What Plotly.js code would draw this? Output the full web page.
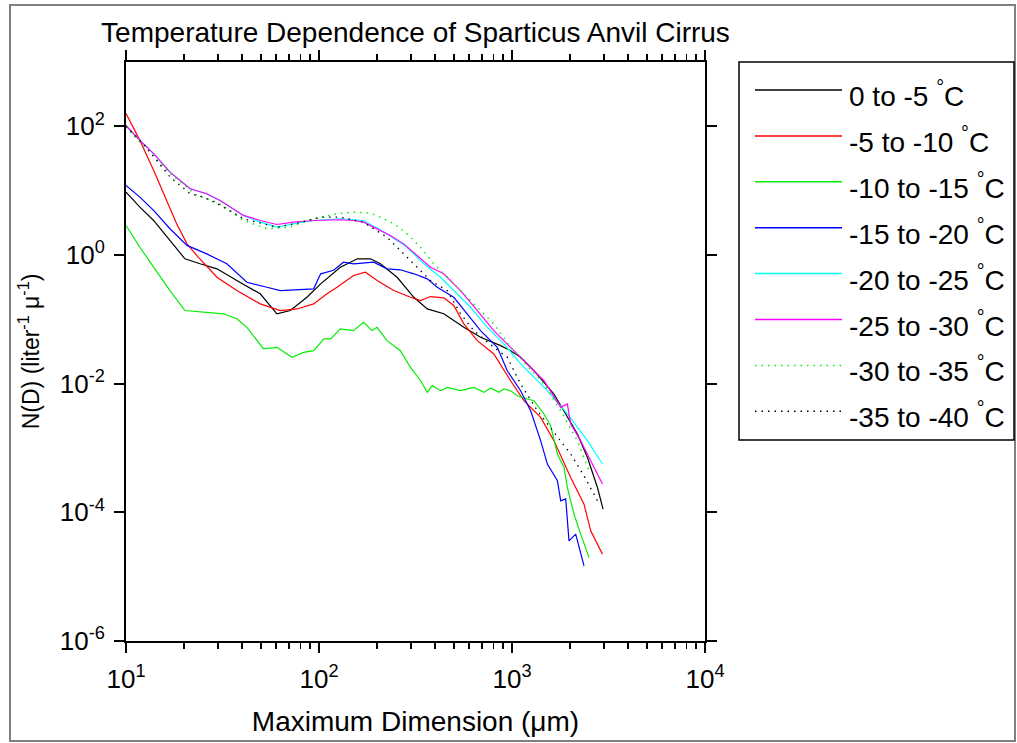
<!DOCTYPE html>
<html>
<head>
<meta charset="utf-8">
<script src="https://cdn.plot.ly/plotly-3.0.1.min.js"></script>
<style>html,body{margin:0;padding:0;background:#fff;}#chart{width:1017px;height:743px;}</style>
</head>
<body>
<div id="chart"></div>
<script>
// ---- data ----
const seriesNames = ['0 to -5 <sup>°</sup>C', '-5 to -10 <sup>°</sup>C', '-10 to -15 <sup>°</sup>C', '-15 to -20 <sup>°</sup>C',
  '-20 to -25 <sup>°</sup>C', '-25 to -30 <sup>°</sup>C', '-30 to -35 <sup>°</sup>C', '-35 to -40 <sup>°</sup>C'];

const D_0to5 = [10, 11.8, 13.9, 16.9, 20.2, 24.2, 29.6, 37.5, 49.6, 60.5, 71.0, 86.6, 102, 129, 158, 185, 208, 254, 310, 364, 443, 563, 687, 873, 983, 1108, 1299, 1650, 1860, 2182, 2460, 2772, 2963];
const N_0to5 = [9.49, 5.55, 3.44, 1.68, 0.873, 0.73, 0.61, 0.401, 0.249, 0.122, 0.137, 0.220, 0.356, 0.646, 0.873, 0.873, 0.73, 0.451, 0.220, 0.145, 0.122, 0.0752, 0.0526, 0.0390, 0.0326, 0.0257, 0.0159, 0.00691, 0.0038, 0.00165, 0.000713, 0.000243, 0.000112];

const D_5to10 = [10, 11.8, 13.9, 16.3, 18.3, 20.7, 23.3, 29.6, 37.5, 49.6, 63.0, 76.9, 93.8, 110, 124, 151, 174, 200, 244, 298, 336, 378, 443, 499, 563, 661, 805, 983, 1066, 1153, 1407, 1650, 2014, 2361, 2558, 2942];
const N_5to10 = [158, 60.5, 20.7, 7.05, 3.06, 1.49, 0.98, 0.451, 0.280, 0.174, 0.137, 0.145, 0.174, 0.249, 0.315, 0.48, 0.54, 0.401, 0.280, 0.220, 0.196, 0.226, 0.216, 0.164, 0.0849, 0.0467, 0.029, 0.0111, 0.00778, 0.00544, 0.00299, 0.0013, 0.000348, 0.000134, 0.0000515, 0.0000224];

const D_10to15 = [10, 11.8, 13.9, 16.9, 20.2, 25.2, 32.0, 37.5, 42.3, 51.6, 60.5, 72.4, 83.2, 93.8, 106, 115, 129, 151, 170, 188, 200, 225, 264, 298, 336, 364, 386, 426, 462, 541, 634, 715, 774, 855, 908, 983, 1066, 1201, 1299, 1464, 1586, 1719, 1860, 1936, 2095, 2270, 2507];
const N_10to15 = [2.88, 1.32, 0.646, 0.280, 0.137, 0.129, 0.122, 0.102, 0.0752, 0.0347, 0.0367, 0.0257, 0.0307, 0.0326, 0.0496, 0.0496, 0.071, 0.0668, 0.090, 0.0668, 0.0752, 0.0467, 0.0326, 0.0179, 0.0111, 0.00732, 0.00931, 0.00778, 0.00876, 0.00778, 0.00876, 0.00732, 0.00857, 0.00732, 0.00827, 0.00778, 0.0065, 0.00578, 0.00544, 0.00338, 0.00222, 0.000805, 0.000498, 0.000243, 0.0000938, 0.0000458, 0.0000198];

const D_15to20 = [10, 11.8, 13.9, 16.9, 20.7, 26.2, 33.3, 42.3, 53.7, 63.0, 93.8, 102, 119, 134, 151, 192, 225, 264, 310, 364, 410, 499, 586, 687, 839, 945, 1108, 1249, 1407, 1525, 1719, 1788, 1898, 1974, 2138, 2224, 2361];
const N_15to20 = [12.1, 7.94, 4.93, 2.56, 1.41, 1.04, 0.73, 0.377, 0.315, 0.280, 0.298, 0.51, 0.58, 0.772, 0.73, 0.772, 0.61, 0.589, 0.51, 0.426, 0.315, 0.22, 0.122, 0.0668, 0.0367, 0.0159, 0.00778, 0.0038, 0.0013, 0.000563, 0.000309, 0.000151, 0.000162, 0.000036, 0.0000458, 0.0000283, 0.0000147];

const D_20to25 = [10, 11.8, 13.9, 16.9, 21.5, 26.2, 30.7, 40.6, 49.6, 60.5, 73.8, 93.8, 129, 170, 225, 286, 349, 426, 499, 610, 744, 908, 1108, 1525, 1936, 2460, 2942];
const N_20to25 = [100, 60.5, 37.6, 19.4, 10.7, 8.96, 7.05, 4.12, 3.24, 2.71, 3.06, 3.44, 3.66, 3.44, 2.14, 1.32, 0.73, 0.451, 0.28, 0.154, 0.0752, 0.0415, 0.0203, 0.00778, 0.00338, 0.0013, 0.000563];

const D_25to30 = [10, 11.8, 13.9, 16.9, 21.5, 26.2, 30.7, 40.6, 49.6, 60.5, 73.8, 93.8, 129, 151, 170, 200, 234, 275, 323, 378, 443, 541, 661, 805, 983, 1201, 1464, 1788, 1936, 2014, 2270, 2558, 2942];
const N_25to30 = [103, 60.5, 37.6, 19.4, 10.7, 8.96, 7.05, 4.12, 3.44, 2.98, 3.24, 3.44, 3.53, 3.44, 3.24, 2.56, 2.01, 1.49, 0.982, 0.646, 0.51, 0.28, 0.137, 0.0668, 0.0367, 0.0203, 0.0111, 0.00428, 0.00483, 0.00236, 0.0013, 0.000633, 0.000275];

const D_30to35 = [10, 10.9, 12.8, 15.9, 19.1, 23.3, 29.6, 34.6, 40.6, 53.7, 71.0, 86.6, 102, 124, 151, 185, 208, 244, 286, 336, 393, 462, 541, 634, 805, 983, 1201, 1464, 1788, 2182, 2507];
const N_30to35 = [100, 72.4, 45.0, 21.9, 13.6, 8.44, 6.63, 4.93, 3.44, 2.56, 2.71, 3.44, 3.87, 4.38, 4.64, 4.47, 3.87, 3.06, 2.14, 1.32, 0.73, 0.451, 0.28, 0.174, 0.0849, 0.0367, 0.0191, 0.00989, 0.0038, 0.0013, 0.000443];

const D_35to40 = [10, 12.3, 16.9, 21.5, 25.2, 29.6, 40.6, 60.5, 80.0, 102, 129, 170, 225, 264, 310, 378, 462, 541, 634, 805, 945, 1108, 1353, 1719, 2014, 2361, 2772];
const N_35to40 = [100, 53.8, 16.3, 8.96, 7.94, 6.33, 3.66, 2.71, 3.20, 3.87, 3.87, 3.24, 1.89, 1.17, 0.73, 0.401, 0.28, 0.122, 0.0668, 0.0367, 0.0257, 0.00989, 0.0038, 0.00146, 0.000805, 0.00037, 0.000151];

const xTickVals = [10, 100, 1000, 10000];
const xTickText = ['10<sup>1</sup>', '10<sup>2</sup>', '10<sup>3</sup>', '10<sup>4</sup>'];
const yTickVals = [1e-6, 1e-4, 1e-2, 1, 100];
const yTickText = ['10<sup>-6</sup>', '10<sup>-4</sup>', '10<sup>-2</sup>', '10<sup>0</sup>', '10<sup>2</sup>'];

// ---- styling ----
const seriesX = [D_0to5, D_5to10, D_10to15, D_15to20, D_20to25, D_25to30, D_30to35, D_35to40];
const seriesY = [N_0to5, N_5to10, N_10to15, N_15to20, N_20to25, N_25to30, N_30to35, N_35to40];
const seriesColors = ['#000000', '#ff0000', '#00ee00', '#0000ff', '#00ffff', '#ff00ff', '#00ee00', '#000000'];
const seriesDash = ['solid', 'solid', 'solid', 'solid', 'solid', 'solid', '1.5px,5px', '1.5px,5px'];
const seriesWidth = [1.2, 1.2, 1.2, 1.2, 1.2, 1.2, 1.5, 1.3];

const FONT = 'Liberation Sans, Arial, Helvetica, sans-serif';
const W = 1017, H = 743;
const M = {l: 126, r: 312, t: 62, b: 102};
const PW = W - M.l - M.r, PH = H - M.t - M.b;
const px2x = p => (p - M.l) / PW;
const py2y = p => (H - M.b - p) / PH;

const traces = seriesX.map((xs, i) => ({
  type: 'scatter', mode: 'lines', x: xs, y: seriesY[i], name: seriesNames[i],
  line: {color: seriesColors[i], width: seriesWidth[i], dash: seriesDash[i]},
  showlegend: false
}));

// minor tick positions for log x axis
const xMinor = [];
for (let d = 1; d < 4; d++) for (let k = 2; k <= 9; k++) xMinor.push(k * Math.pow(10, d));

const shapes = [];
const annotations = [];
// outer frame
shapes.push({type: 'rect', xref: 'paper', yref: 'paper', x0: px2x(10), x1: px2x(1015), y0: py2y(741), y1: py2y(5),
  line: {color: '#808080', width: 2}, fillcolor: 'rgba(0,0,0,0)', layer: 'below'});
// legend box
shapes.push({type: 'rect', xref: 'paper', yref: 'paper', x0: px2x(739), x1: px2x(1014), y0: py2y(440), y1: py2y(62),
  line: {color: '#000', width: 1.5}, fillcolor: 'rgba(0,0,0,0)'});
seriesNames.forEach((nm, i) => {
  const ly = 90 + 45.9 * i;
  shapes.push({type: 'line', xref: 'paper', yref: 'paper', x0: px2x(755), x1: px2x(842), y0: py2y(ly), y1: py2y(ly),
    line: {color: seriesColors[i], width: 1.5, dash: seriesDash[i]}});
  annotations.push({xref: 'paper', yref: 'paper', x: px2x(847), y: py2y(ly + 4), xanchor: 'left', yanchor: 'middle',
    text: nm, showarrow: false, font: {family: FONT, size: 28, color: '#000'}});
});

const layout = {
  width: W, height: H,
  margin: M,
  paper_bgcolor: '#fff', plot_bgcolor: '#fff',
  font: {family: FONT, color: '#000', size: 25},
  showlegend: false,
  title: {text: 'Temperature Dependence of Sparticus Anvil Cirrus', font: {family: FONT, size: 28, color: '#000'},
    xref: 'paper', x: 0.5, xanchor: 'center', yref: 'container', y: 1 - 32 / H, yanchor: 'middle'},
  xaxis: {
    type: 'log', range: [1, 4], tickmode: 'array', tickvals: xTickVals, ticktext: xTickText,
    ticks: 'outside', ticklen: 10, tickwidth: 2, tickcolor: '#000', ticklabelstandoff: 4,
    showline: true, linewidth: 2, linecolor: '#000', mirror: 'ticks',
    showgrid: false, zeroline: false, automargin: false,
    tickfont: {family: FONT, size: 26, color: '#000'},
    minor: {tickmode: 'array', tickvals: xMinor, ticks: 'outside', ticklen: 6, tickwidth: 1.5, tickcolor: '#000', showgrid: false},
    title: {text: 'Maximum Dimension (μm)', font: {family: FONT, size: 28, color: '#000'}, standoff: 18}
  },
  yaxis: {
    type: 'log', range: [-6, 3], tickmode: 'array', tickvals: yTickVals, ticktext: yTickText,
    ticks: 'outside', ticklen: 10, tickwidth: 2, tickcolor: '#000', ticklabelstandoff: 4,
    showline: true, linewidth: 2, linecolor: '#000', mirror: 'ticks',
    showgrid: false, zeroline: false, automargin: false,
    tickfont: {family: FONT, size: 26, color: '#000'},
    title: {text: 'N(D) (liter<sup>-1</sup> μ<sup>-1</sup>)', font: {family: FONT, size: 23, color: '#000'}, standoff: 14}
  },
  shapes: shapes,
  annotations: annotations
};

Plotly.newPlot('chart', traces, layout, {staticPlot: true, displayModeBar: false});
</script>
</body>
</html>
